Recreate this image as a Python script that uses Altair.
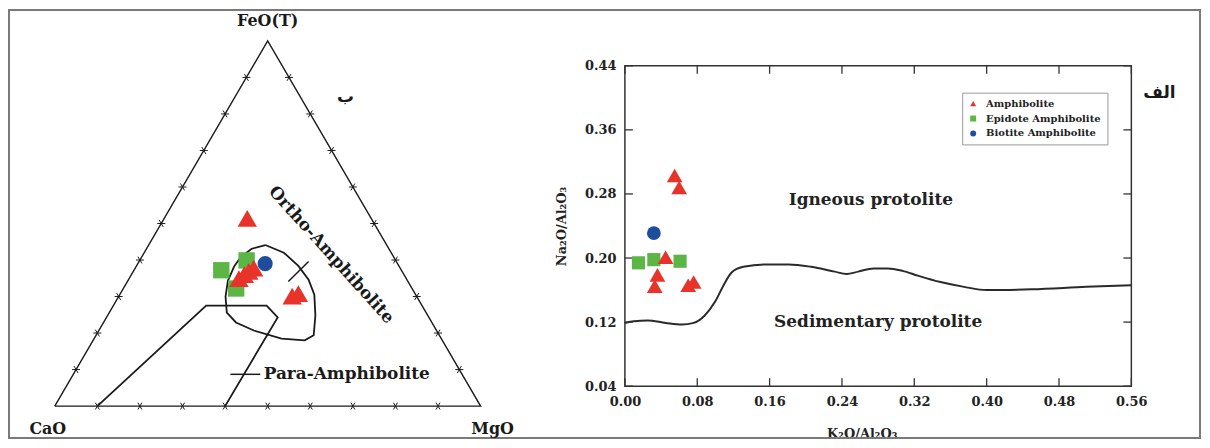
import altair as alt
import numpy as np
import pandas as pd

# ---------------- data: right panel (K2O/Al2O3 vs Na2O/Al2O3) ----------------
types = ["Amphibolite", "Epidote Amphibolite", "Biotite Amphibolite"]

amph_k2o = [0.055, 0.060, 0.045, 0.036, 0.033, 0.070, 0.076]
amph_na2o = [0.303, 0.288, 0.201, 0.179, 0.165, 0.166, 0.170]
epid_k2o = [0.015, 0.032, 0.061]
epid_na2o = [0.194, 0.198, 0.196]
biot_k2o = [0.032]
biot_na2o = [0.231]

curve_x = [0.000, 0.010, 0.025, 0.045, 0.063, 0.076, 0.088, 0.100, 0.110, 0.118,
           0.131, 0.156, 0.181, 0.206, 0.232, 0.245, 0.258, 0.275, 0.291, 0.307,
           0.324, 0.349, 0.375, 0.400, 0.450, 0.510, 0.560]
curve_y = [0.119, 0.121, 0.122, 0.119, 0.117, 0.119, 0.128, 0.146, 0.168, 0.182,
           0.189, 0.192, 0.192, 0.189, 0.183, 0.180, 0.183, 0.187, 0.187, 0.184,
           0.178, 0.170, 0.164, 0.160, 0.161, 0.164, 0.166]

x_ticks = [0.00, 0.08, 0.16, 0.24, 0.32, 0.40, 0.48, 0.56]
y_ticks = [0.04, 0.12, 0.20, 0.28, 0.36, 0.44]

field_labels = ["Igneous protolite", "Sedimentary protolite"]
field_label_x = [0.272, 0.280]
field_label_y = [0.272, 0.120]

# ---------------- data: left panel (ternary FeO(T) - CaO - MgO, in %) ----------------
amph_feo = [51.4, 37.8, 36.9, 36.0, 34.9, 30.1, 30.8]
amph_mgo = [19.5, 27.8, 27.1, 26.5, 25.8, 40.7, 41.8]
amph_cao = [29.1, 34.4, 36.0, 37.5, 39.3, 29.2, 27.4]
epid_feo = [37.2, 32.2, 39.9]
epid_mgo = [20.5, 26.5, 25.1]
epid_cao = [42.3, 41.3, 35.0]
biot_feo = [39.0]
biot_mgo = [29.9]
biot_cao = [31.1]

ortho_feo = [44.1, 42.0, 38.4, 34.6, 30.5, 24.8, 19.4, 18.0, 18.5, 20.7, 22.9, 25.6,
             30.0, 34.3, 38.2, 40.9, 43.1, 44.1]
ortho_mgo = [27.4, 32.8, 38.0, 42.3, 45.7, 48.8, 51.1, 49.7, 44.0, 36.4, 31.1, 27.6,
             25.1, 23.5, 23.0, 23.3, 24.7, 27.4]
para_feo = [0.0, 27.5, 27.5, 24.3, 0.0]
para_mgo = [10.0, 21.8, 36.0, 40.2, 40.0]

ortho_leader_feo = [34.1, 39.6]
ortho_leader_mgo = [37.8, 39.8]
para_leader_feo = [8.7, 8.7]
para_leader_mgo = [36.9, 43.9]

tern_ticks = [10, 20, 30, 40, 50, 60, 70, 80, 90]

# ---------------- layout (pixels) ----------------
PLOT_W, PLOT_H = 509, 322
PLOT_LEFT, PLOT_TOP = 628, 65          # page position of right plot area
TRI_X0, TRI_X1 = 55, 483               # page x of CaO / MgO vertices
TRI_BASE, TRI_APEX = 407, 40           # page y of base / apex
SQ3 = np.sqrt(3) / 2

FONT = "DejaVu Serif"
RED, GREEN, BLUE = "#e8332b", "#5cb646", "#1f4d9e"
INK = "#1a1a1a"


def tern_uv(feo, mgo, cao=None):
    feo = np.asarray(feo, float)
    mgo = np.asarray(mgo, float)
    tot = 100.0 if cao is None else feo + mgo + np.asarray(cao, float)
    f = feo / tot
    m = mgo / tot
    return m + f / 2, f * SQ3


# ternary scales placed so that the triangle lands in the left panel
kx = (TRI_X1 - TRI_X0)
u0 = (PLOT_LEFT - TRI_X0) / kx
ky = (TRI_BASE - TRI_APEX) / SQ3
v0 = ((TRI_BASE - PLOT_TOP) - PLOT_H) / ky
tsx = alt.Scale(domain=[u0, u0 + PLOT_W / kx], nice=False, zero=False)
tsy = alt.Scale(domain=[v0, v0 + PLOT_H / ky], nice=False, zero=False)
TX = alt.X("u:Q", scale=tsx, axis=None)
TY = alt.Y("v:Q", scale=tsy, axis=None)

# right panel scales / axes
sx = alt.Scale(domain=[0, 0.56], nice=False, zero=False)
sy = alt.Scale(domain=[0.04, 0.44], nice=False, zero=False)
ax_x = alt.Axis(values=x_ticks, format=".2f", ticks=False, domain=False, grid=False,
                labelPadding=9, labelFont=FONT, labelFontSize=13, labelFontWeight="bold",
                labelColor="#222", labelFlush=False, labelOverlap=False,
                title="K₂O/Al₂O₃", titleFont=FONT, titleFontSize=13, titleFontWeight="bold",
                titleColor="#222", titleX=238, titleY=48, titleBaseline="middle",
                titleAlign="center")
ax_y = alt.Axis(values=y_ticks, format=".2f", ticks=False, domain=False, grid=False,
                labelPadding=9, labelFont=FONT, labelFontSize=13, labelFontWeight="bold",
                labelColor="#222", labelFlush=False, labelOverlap=False,
                title="Na₂O/Al₂O₃", titleFont=FONT, titleFontSize=13, titleFontWeight="bold",
                titleColor="#222", titleX=-64, titleY=161, titleBaseline="middle",
                titleAlign="center")
SX = alt.X("x:Q", scale=sx, axis=ax_x)
SY = alt.Y("y:Q", scale=sy, axis=ax_y)

legend = alt.Legend(title=None, orient="none", legendX=339, legendY=27,
                    fillColor="white", strokeColor="#999", padding=6,
                    labelFont=FONT, labelFontSize=10, labelFontWeight="bold",
                    labelColor="#222", symbolSize=36, rowPadding=5, labelOffset=8,
                    symbolStrokeWidth=0)
COLOR = alt.Color("type:N", scale=alt.Scale(domain=types, range=[RED, GREEN, BLUE]),
                  legend=legend)
SHAPE = alt.Shape("type:N", scale=alt.Scale(domain=types,
                                            range=["triangle-up", "square", "circle"]),
                  legend=legend)

# ---------------- right panel data frames ----------------
pts = pd.concat([
    pd.DataFrame({"x": epid_k2o, "y": epid_na2o, "type": types[1]}),
    pd.DataFrame({"x": amph_k2o, "y": amph_na2o, "type": types[0]}),
    pd.DataFrame({"x": biot_k2o, "y": biot_na2o, "type": types[2]}),
], ignore_index=True)
curve = pd.DataFrame({"x": curve_x, "y": curve_y})
xt = pd.DataFrame({"x": x_ticks})
yt = pd.DataFrame({"y": y_ticks})
flabels = pd.DataFrame({"x": field_label_x, "y": field_label_y, "label": field_labels})

right_sizes = {types[0]: 250, types[1]: 175, types[2]: 190}
left_sizes = {types[0]: 380, types[1]: 270, types[2]: 230}

frame = alt.Chart(alt.Data(values=[{}])).mark_rect(
    fillOpacity=0, stroke="#7a7a7a", strokeWidth=2
).encode(x=alt.value(TRI_X0 - PLOT_LEFT - 46), x2=alt.value(578),
         y=alt.value(-56), y2=alt.value(374))

curve_layer = alt.Chart(curve).mark_line(color="#2a2a2a", strokeWidth=2,
                                         interpolate="monotone").encode(x=SX, y=SY)

tick_len = 8
tick_style = dict(color="#333", strokeWidth=1.3)
tb = alt.Chart(xt).mark_rule(**tick_style).encode(x=SX, y=alt.value(PLOT_H), y2=alt.value(PLOT_H - tick_len))
tt = alt.Chart(xt).mark_rule(**tick_style).encode(x=SX, y=alt.value(0), y2=alt.value(tick_len))
tl = alt.Chart(yt).mark_rule(**tick_style).encode(y=SY, x=alt.value(0), x2=alt.value(tick_len))
tr = alt.Chart(yt).mark_rule(**tick_style).encode(y=SY, x=alt.value(PLOT_W), x2=alt.value(PLOT_W - tick_len))

point_layers = []
for t in [types[1], types[0], types[2]]:
    point_layers.append(
        alt.Chart(pts).transform_filter(alt.datum.type == t)
        .mark_point(filled=True, opacity=1)
        .encode(x=SX, y=SY, color=COLOR, shape=SHAPE, size=alt.value(right_sizes[t]))
    )

flabel_layer = alt.Chart(flabels).mark_text(
    font=FONT, fontSize=17, fontWeight="bold", color="#222", baseline="middle", align="center"
).encode(x=SX, y=SY, text="label:N")

alef = alt.Chart(pd.DataFrame({"x": [0.591], "y": [0.4065], "label": ["الف"]})).mark_text(
    font="DejaVu Sans", fontSize=17, fontWeight="bold", color=INK, baseline="middle", align="center"
).encode(x=SX, y=SY, text="label:N")

right = alt.layer(frame, curve_layer, tb, tt, tl, tr, *point_layers, flabel_layer, alef)

# ---------------- left panel (ternary) data frames ----------------
u, v = tern_uv([0, 0, 100, 0], [0, 100, 0, 0])
outline = pd.DataFrame({"u": u, "v": v, "i": range(4)})

tick_rows = []
d = 4.0 / kx
for k in tern_ticks:
    # base CaO-MgO
    pu, pv = tern_uv(0, k)
    for du, dv in [(0.5, SQ3), (-0.5, SQ3)]:
        tick_rows.append((pu - d * du, pv - d * dv, pu + d * du, pv + d * dv))
    # left side CaO-FeO
    pu, pv = tern_uv(k, 0)
    for du, dv in [(1, 0), (0.5, -SQ3)]:
        tick_rows.append((pu - d * du, pv - d * dv, pu + d * du, pv + d * dv))
    # right side MgO-FeO
    pu, pv = tern_uv(k, 100 - k)
    for du, dv in [(1, 0), (0.5, SQ3)]:
        tick_rows.append((pu - d * du, pv - d * dv, pu + d * du, pv + d * dv))
tern_tick_df = pd.DataFrame(tick_rows, columns=["u", "v", "u2", "v2"])

u, v = tern_uv(ortho_feo, ortho_mgo)
ortho = pd.DataFrame({"u": u, "v": v, "i": range(len(u))})
u, v = tern_uv(para_feo, para_mgo)
para = pd.DataFrame({"u": u, "v": v, "i": range(len(u))})
u, v = tern_uv(ortho_leader_feo, ortho_leader_mgo)
para_u, para_v = tern_uv(para_leader_feo, para_leader_mgo)
leaders = pd.DataFrame({"u": [u[0], para_u[0]], "v": [v[0], para_v[0]],
                        "u2": [u[1], para_u[1]], "v2": [v[1], para_v[1]]})

tpts = []
for t, f, m, c in [(types[1], epid_feo, epid_mgo, epid_cao),
                   (types[0], amph_feo, amph_mgo, amph_cao),
                   (types[2], biot_feo, biot_mgo, biot_cao)]:
    uu, vv = tern_uv(f, m, c)
    tpts.append(pd.DataFrame({"u": uu, "v": vv, "type": t}))
tpts = pd.concat(tpts, ignore_index=True)

outline_layer = alt.Chart(outline).mark_line(color=INK, strokeWidth=1.4).encode(
    x=TX, y=TY, order="i:Q")
tick_layer = alt.Chart(tern_tick_df).mark_rule(color=INK, strokeWidth=1).encode(
    x=TX, y=TY, x2="u2:Q", y2="v2:Q")
ortho_layer = alt.Chart(ortho).mark_line(color=INK, strokeWidth=1.8).encode(
    x=TX, y=TY, order="i:Q")
para_layer = alt.Chart(para).mark_line(color=INK, strokeWidth=1.8).encode(
    x=TX, y=TY, order="i:Q")
leader_layer = alt.Chart(leaders).mark_rule(color=INK, strokeWidth=1.5).encode(
    x=TX, y=TY, x2="u2:Q", y2="v2:Q")

tern_point_layers = []
for t in [types[1], types[0], types[2]]:
    tern_point_layers.append(
        alt.Chart(tpts).transform_filter(alt.datum.type == t)
        .mark_point(filled=True, opacity=1)
        .encode(x=TX, y=TY, color=COLOR, shape=SHAPE, size=alt.value(left_sizes[t]))
    )


def tern_text(label, feo, mgo, **kw):
    uu, vv = tern_uv([feo], [mgo])
    df = pd.DataFrame({"u": uu, "v": vv, "label": [label]})
    style = dict(font=FONT, fontSize=16, fontWeight="bold", color=INK,
                 baseline="middle", align="center")
    style.update(kw)
    return alt.Chart(df).mark_text(**style).encode(x=TX, y=TY, text="label:N")


tern_texts = [
    tern_text("FeO(T)", 100, 0, dy=-20),
    tern_text("CaO", 0, 0, dx=-7, dy=23),
    tern_text("MgO", 0, 100, dx=12, dy=23),
    tern_text("Ortho-Amphibolite", 41.4, 44.2, fontSize=17, angle=48),
    tern_text("Para-Amphibolite", 8.7, 44.7, fontSize=17, align="left"),
    tern_text("ب", 84.5, 26.0, font="DejaVu Sans", fontSize=17),
]

left = alt.layer(outline_layer, tick_layer, ortho_layer, para_layer, leader_layer,
                 *tern_point_layers, *tern_texts)

chart = alt.layer(right, left).resolve_scale(x="independent", y="independent").properties(
    width=PLOT_W, height=PLOT_H,
    autosize=alt.AutoSizeParams(type="none"),
    padding={"left": PLOT_LEFT - 8, "top": PLOT_TOP - 8, "right": 71, "bottom": 53},
    background="white",
).configure_view(stroke="#333", strokeWidth=1.5)

chart.save("out.html", embed_options={"renderer": "svg", "actions": False})
